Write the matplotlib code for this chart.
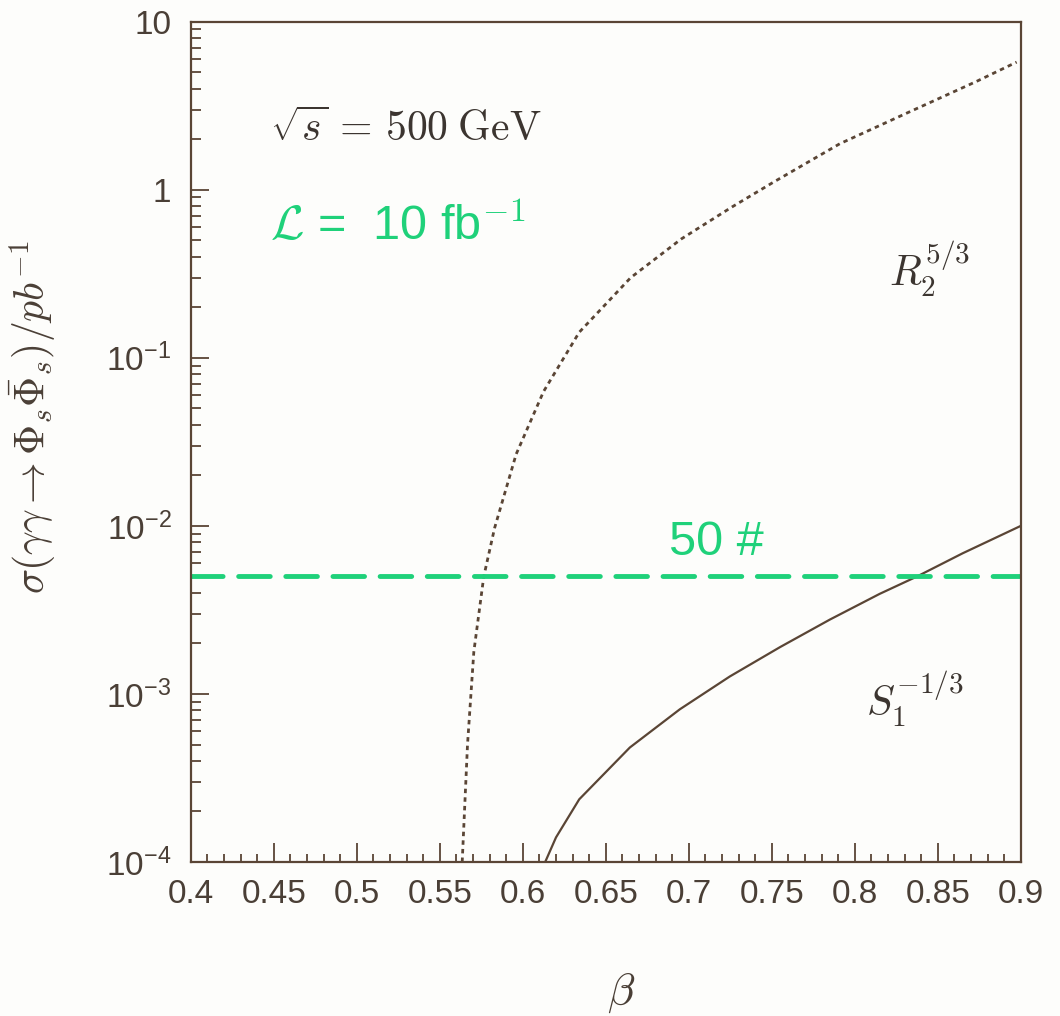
import matplotlib
matplotlib.use("Agg")
import matplotlib.pyplot as plt
from matplotlib.ticker import FixedLocator, FixedFormatter, MultipleLocator, LogLocator, NullFormatter

# values
beta_r = [0.5635, 0.5667, 0.5705, 0.5765, 0.583, 0.596, 0.6125, 0.634, 0.665,
          0.6955, 0.726, 0.751, 0.791, 0.832, 0.873, 0.8975]
sigma_r = [1e-4, 5.0e-4, 1.78e-3, 5.0e-3, 9.7e-3, 2.67e-2, 6.3e-2, 0.142, 0.30,
           0.51, 0.79, 1.11, 1.88, 2.88, 4.4, 5.75]

beta_s = [0.6135, 0.62, 0.634, 0.6645, 0.6946, 0.7247, 0.755, 0.785, 0.815,
          0.8375, 0.865, 0.9]
sigma_s = [1e-4, 1.4e-4, 2.36e-4, 4.8e-4, 8.1e-4, 1.27e-3, 1.9e-3, 2.77e-3,
           3.94e-3, 5.0e-3, 6.87e-3, 1.0e-2]

# 50 events at 10 fb^-1
beta_line = [0.4, 0.9]
sigma_line = [5e-3, 5e-3]

x_ticks = [0.4, 0.45, 0.5, 0.55, 0.6, 0.65, 0.7, 0.75, 0.8, 0.85, 0.9]
x_tick_labels = ["0.4", "0.45", "0.5", "0.55", "0.6", "0.65", "0.7", "0.75",
                 "0.8", "0.85", "0.9"]
y_ticks = [1e-4, 1e-3, 1e-2, 1e-1, 1, 10]
y_tick_labels = [r"$\mathregular{10^{-4}}$", r"$\mathregular{10^{-3}}$",
                 r"$\mathregular{10^{-2}}$", r"$\mathregular{10^{-1}}$", "1", "10"]

ink = "#5a4535"
label_ink = "#4a3f36"
green = "#1fd17a"

plt.rcParams["font.family"] = ["Liberation Sans", "DejaVu Sans"]
plt.rcParams["mathtext.fontset"] = "custom"
plt.rcParams["mathtext.rm"] = "Liberation Sans"

fig = plt.figure(figsize=(10.6, 10.16), dpi=100)
fig.patch.set_facecolor("#fdfdfb")
ax = fig.add_axes([0.180, 0.1516, 0.783, 0.827])
ax.set_facecolor("#fdfdfb")

ax.plot(beta_r, sigma_r, color=ink, lw=2.0, linestyle=(0, (1.6, 1.5)))
ax.plot(beta_s, sigma_s, color=ink, lw=1.6)
ax.plot(beta_line, sigma_line, color=green, lw=3.5, linestyle=(0, (6.5, 3.2)),
        dash_capstyle="round")

ax.set_yscale("log")
ax.set_xlim(0.4, 0.9)
ax.set_ylim(1e-4, 10)

ax.xaxis.set_major_locator(FixedLocator(x_ticks))
ax.xaxis.set_major_formatter(FixedFormatter(x_tick_labels))
ax.xaxis.set_minor_locator(MultipleLocator(0.01))
ax.yaxis.set_major_locator(FixedLocator(y_ticks))
ax.yaxis.set_major_formatter(FixedFormatter(y_tick_labels))
ax.yaxis.set_minor_locator(LogLocator(base=10, subs=range(2, 10), numticks=20))
ax.yaxis.set_minor_formatter(NullFormatter())

ax.tick_params(which="both", direction="in", top=False, right=False,
               color=ink, width=1.3, labelcolor=label_ink, labelsize=24)
ax.tick_params(axis="x", which="major", length=14, pad=12)
ax.tick_params(axis="x", which="minor", length=6)
ax.tick_params(axis="y", which="major", length=13, pad=14)
ax.tick_params(axis="y", which="minor", length=7)

for sp in ax.spines.values():
    sp.set_color(ink)
    sp.set_linewidth(1.6)

ax.set_xlabel(r"$\beta$", fontsize=32, color=label_ink, math_fontfamily="cm")
ax.xaxis.set_label_coords(0.518, -0.156)
ax.xaxis.label.set_va("center")
ax.set_ylabel(r"$\sigma(\gamma\gamma\rightarrow\Phi_s\bar{\Phi}_s)/pb^{-1}$",
              fontsize=30, color=label_ink, math_fontfamily="cm")
ax.yaxis.set_label_coords(-0.19, 0.53)
ax.yaxis.label.set_va("center")
ax.yaxis.label.set_ha("center")

ax.text(0.095, 0.871, r"$\sqrt{s}\,=\,500\;\mathrm{GeV}$", transform=ax.transAxes,
        fontsize=30, color="#3c3530", ha="left", va="center", math_fontfamily="cm")
ax.text(0.095, 0.756, r"$\mathcal{L}$ =  10 fb$^{-1}$", transform=ax.transAxes,
        fontsize=35, color=green, ha="left", va="center", math_fontfamily="cm")
ax.text(0.633, 0.38, "50 #", transform=ax.transAxes, fontsize=35, color=green,
        ha="center", va="center")
ax.text(0.89, 0.705, r"$R_2^{5/3}$", transform=ax.transAxes, fontsize=30,
        color="#3c3530", ha="center", va="center", math_fontfamily="cm")
ax.text(0.873, 0.193, r"$S_1^{-1/3}$", transform=ax.transAxes, fontsize=30,
        color="#3c3530", ha="center", va="center", math_fontfamily="cm")

fig.savefig("out.png", dpi=100, facecolor=fig.get_facecolor())
